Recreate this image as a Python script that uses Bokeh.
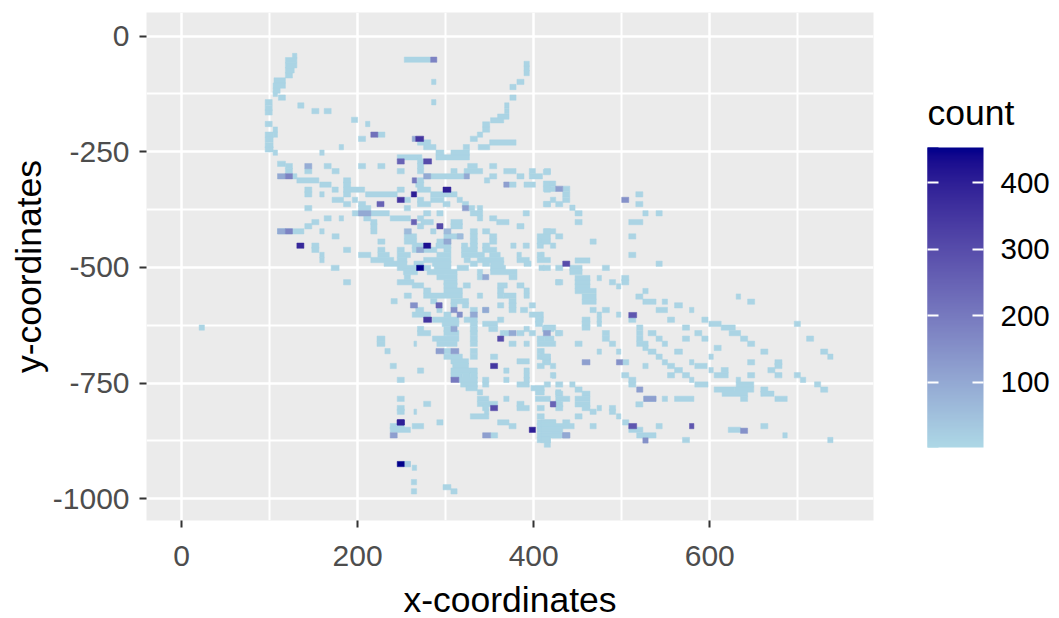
from bokeh.plotting import figure
from bokeh.models import ColumnDataSource, LinearColorMapper, ColorBar, FixedTicker, Range1d, Label
from bokeh.embed import file_html
from bokeh.resources import INLINE

x_ticks = [0, 200, 400, 600]
x_minor = [100, 300, 500, 700]
y_ticks = [0, -250, -500, -750, -1000]
y_minor = [-125, -375, -625, -875]
legend_ticks = [100, 200, 300, 400]
count_low, count_high = 1.5, 453
base_count = 12

# rows of pale cells: (y, [x0, x1, x0, x1, ...])
upper_rows = [
 (-43,[126,131]),(-52,[118,131]),(-63,[118,131]),(-74,[118,128]),(-85,[118,126]),(-96,[105,118]),(-107,[104,118]),
 (-118,[104,112]),(-125,[104,109]),(-133,[110,118,373,380]),(-143,[95,103,284,289]),(-150,[132,139,367,372]),
 (-155,[95,103]),(-162,[148,156,162,170,367,372]),(-165,[95,103]),(-174,[359,372]),(-181,[193,200]),
 (-182,[351,366]),(-190,[95,103,209,214]),(-191,[342,350]),(-202,[104,109,342,350]),
 (-213,[95,104,104,109,223,231,336,342]),(-222,[201,209,328,336]),(-224,[95,104]),(-230,[268,283,350,380]),
 (-236,[95,104]),(-240,[179,184,275,289,320,327,337,350]),(-245,[95,104]),(-252,[104,109,157,162,289,298,306,327]),
 (-262,[245,273,289,327]),(-271,[268,275]),(-60,[389,395]),(-70,[389,395]),(-80,[389,395]),(-99,[284,289,381,389]),
 (-110,[373,380]),(-51,[253,283]),
 (-276,[109,118]),(-281,[118,126,162,170,201,209,223,231,268,275,325,336,350,358]),
 (-292,[118,126,140,148,171,179,245,253,268,275,306,313,321,342,366,380,395,402,412,419]),
 (-294,[411,419]),(-303,[126,131,276,321,350,358,381,389,395,410]),(-312,[131,156,184,192,268,275,344,350]),
 (-319,[411,425]),(-321,[157,170,184,192,266,275,372,380,389,402,412,419]),
 (-330,[411,425,433,441]),(-332,[140,148,171,178,184,208,245,253,268,283,412,419]),
 (-342,[140,148,157,162,184,192,209,245,283,306,306,313,433,441,516,524]),
 (-354,[253,260,171,184,194,200,268,275,283,298,313,319,419,425,433,441]),
 (-363,[184,192,201,209,268,283,297,305,319,326,412,419,411,419,425,433,516,524]),
 (-371,[441,447]),(-372,[140,148,201,215,253,260,326,333,336,342]),
 (-383,[194,236,275,283,290,297,328,342,388,395,447,455,524,530,539,546]),
 (-394,[162,170,179,184,207,215,237,260,268,275,336,342,350,358]),
 (-402,[148,156,215,222,272,286,306,319,358,372,447,455,508,524]),
 (-411,[140,148,215,222,268,275,306,319,381,389]),
 (-422,[109,139,157,162,215,222,283,289,328,336,342,350,412,419,411,425]),
 (-433,[171,179,253,267,298,319,328,336,350,358,404,419,425,433,508,516]),
 (-444,[223,231,253,267,290,306,328,336,350,358,404,411,408,419,464,471]),
 (-453,[148,156,262,275,289,306,318,325,328,336,342,350,374,380,388,395,404,411,419,425]),
 (-462,[148,156,184,192,223,231,245,253,262,290,298,306,318,336,342,358]),
 (-473,[157,162,201,215,223,236,245,260,290,306,318,344,350,362,381,386,404,411,408,412,508,516]),
 (-484,[157,162,215,241,245,256,275,306,321,328,336,366,381,395,404,419]),
 (-485,[447,464]),(-492,[230,256,264,275,285,306,328,336,342,350,351,366,389,397,539,546]),
]
middle_rows = [
 (-501,[170,179,245,267,275,283,287,306,313,326,351,368,406,412,411,419,425,433,441,455,478,486]),
 (-510,[252,268,279,313,336,342,351,381,441,455]),
 (-521,[253,260,290,313,336,342,372,381]),(-523,[447,464,472,477,500,508]),
 (-532,[184,192,245,264,298,313,425,431,425,433,447,464,486,493,500,508]),
 (-539,[262,275,298,313,320,328,359,370,381,389]),(-541,[447,464,494,499]),
 (-550,[275,283,298,319,359,366,389,395]),(-551,[447,471,524,530]),
 (-561,[253,261,275,319,336,342,359,366,366,380,389,395]),(-563,[455,471,516,524,630,635]),
 (-573,[238,245,283,290,306,326,372,380]),(-574,[455,471,524,539,546,552,643,651]),
 (-582,[290,296,306,313,319,326,359,366,372,380,395,402,560,569]),
 (-592,[266,275,290,296,328,336,342,349,372,380,385,393,464,471,478,486,539,552,577,582]),
 (-602,[262,283,298,306,395,410,408,411,472,477,494,499]),
 (-613,[285,315,321,336,359,366,402,410,408,411,455,464,472,477,508,516,552,560,591,598]),
 (-622,[296,315,328,336,342,359,402,410,455,464,472,477,599,613,696,703]),
 (-630,[20,26,411,425,455,464,517,524,569,577,613,629]),
 (-633,[268,275,298,306,328,336,349,359,389,395,410,423]),
 (-642,[268,283,298,315,328,336,362,366,366,372,381,389,395,402,425,431,425,433,478,486,517,524,530,539,583,591,622,635]),
 (-654,[222,231,285,315,328,336,404,412,412,423,478,486,517,524,539,546,569,577,591,598,635,643,710,718]),
 (-665,[222,231,264,267,290,313,328,336,372,380,389,395,404,425,447,455,486,493,517,530,546,552,643,651]),
 (-674,[524,530,605,613]),(-681,[231,237,298,306,328,336,404,412]),
 (-682,[408,411,472,477,494,499,530,539,560,569,658,666,726,734]),
 (-693,[298,319,328,336,351,359,404,419,408,419,539,546,599,604,734,740]),
 (-703,[306,326,381,395,410,419]),(-705,[411,419,501,508,546,552,577,582,643,651,674,682]),
 (-713,[237,244,308,326,404,412,419,425,524,530,552,560,583,597,674,682]),
 (-722,[560,569,599,604,613,621,666,674]),
 (-723,[268,275,306,336,366,372,389,395]),
 (-733,[419,425,500,508,552,560,569,577,605,621,643,651,674,682,696,703]),
 (-734,[306,319,319,328,328,336,389,395,421,425]),
 (-743,[245,253,315,336,342,349,366,372,389,395,508,516,577,582,630,635,703,709]),
 (-753,[317,336,342,349,381,395,412,419,425,433,441,447,508,516,583,598,630,650,719,726]),
]
lower_rows = [
 (-761,[323,336,397,412]),(-764,[408,411,447,455,605,628,628,650,658,666,726,734]),
 (-770,[336,342,402,412,425,431]),(-773,[425,433,455,464,614,643,658,673]),
 (-784,[245,253,336,349,366,372,402,419,425,441,447,464,525,539,546,552,560,582,635,643,674,688]),
 (-795,[275,283,336,359,381,389,425,431]),(-796,[425,433,447,464,516,524]),
 (-804,[245,253,342,349,381,395,404,412,425,433,455,464,472,477,486,493]),
 (-812,[245,253,264,267,344,349,464,471,486,493]),
 (-822,[328,349,404,412,447,455,494,499]),
 (-835,[290,297,359,372,404,425,408,425,433,441,501,508]),
 (-843,[237,253,262,275,372,380,404,412,418,425,408,446,464,471,539,546,658,666]),
 (-851,[237,260,404,431,408,433,508,524,621,635]),
 (-863,[351,359,404,410,421,431,408,433,517,539,683,688]),
 (-873,[404,419,408,419,569,577,734,740]),(-883,[412,419]),
 (-925,[253,260]),(-933,[262,267]),(-964,[261,267]),(-975,[297,306]),(-984,[261,267,306,313]),
]

# individually darker cells
hot_x0 = [215,262,266,283,245,275,109,118,275,321,140,262,366,297,261,245,222,319,201,261,290,109,118,253,298,131,275,313,298,267,267,289,306,260,313,328,342,342,275,359,289,306,372,351,306,306,245,351,419,245,395,237,342,254,245,500,425,433,411,455,494,508,577,433,419,517,525,508,635,524,433]
hot_x1 = [223,266,275,290,253,284,118,126,283,327,148,267,372,306,267,253,230,326,215,267,297,118,126,261,306,139,283,320,306,275,275,296,313,268,319,336,349,349,284,366,298,313,380,359,315,315,253,359,425,253,402,245,351,260,253,508,433,441,419,464,501,517,582,441,425,524,539,517,643,530,441]
hot_y  = [-213,-222,-222,-51,-271,-271,-303,-303,-303,-303,-281,-312,-321,-332,-342,-354,-363,-372,-383,-402,-411,-422,-422,-422,-422,-453,-453,-433,-444,-501,-462,-582,-592,-582,-602,-602,-521,-592,-613,-654,-681,-633,-642,-713,-743,-681,-835,-804,-795,-925,-851,-863,-863,-925,-835,-354,-330,-492,-642,-705,-705,-603,-843,-863,-796,-764,-784,-843,-853,-874,-863]
hot_n  = [220,100,350,180,250,300,100,180,100,100,90,200,120,400,400,350,250,120,100,250,300,100,180,60,60,380,430,60,100,460,100,250,150,150,150,100,100,100,350,300,120,100,100,350,200,120,400,300,120,460,400,120,120,30,400,150,120,300,120,120,150,280,280,100,250,120,120,280,150,150,100]

pale = (173, 216, 230)
deep = (0, 0, 139)


def rgb_to_lab(rgb):
    lin = [(c / 255 / 12.92) if c / 255 <= 0.04045 else ((c / 255 + 0.055) / 1.055) ** 2.4 for c in rgb]
    x = (0.4124 * lin[0] + 0.3576 * lin[1] + 0.1805 * lin[2]) / 0.95047
    y = 0.2126 * lin[0] + 0.7152 * lin[1] + 0.0722 * lin[2]
    z = (0.0193 * lin[0] + 0.1192 * lin[1] + 0.9505 * lin[2]) / 1.08883
    f = lambda t: t ** (1 / 3) if t > 0.008856 else 7.787 * t + 16 / 116
    return 116 * f(y) - 16, 500 * (f(x) - f(y)), 200 * (f(y) - f(z))


def lab_to_hex(lab):
    fy = (lab[0] + 16) / 116
    fx, fz = fy + lab[1] / 500, fy - lab[2] / 200
    g = lambda t: t ** 3 if t ** 3 > 0.008856 else (t - 16 / 116) / 7.787
    x, y, z = 0.95047 * g(fx), g(fy), 1.08883 * g(fz)
    lin = (3.2406 * x - 1.5372 * y - 0.4986 * z, -0.9689 * x + 1.8758 * y + 0.0415 * z, 0.0557 * x - 0.2040 * y + 1.0570 * z)
    out = [12.92 * c if c <= 0.0031308 else 1.055 * max(c, 0) ** (1 / 2.4) - 0.055 for c in lin]
    return "#%02x%02x%02x" % tuple(min(255, max(0, round(c * 255))) for c in out)


lab_a, lab_b = rgb_to_lab(pale), rgb_to_lab(deep)
palette = [lab_to_hex([a + (b - a) * i / 255 for a, b in zip(lab_a, lab_b)]) for i in range(256)]
mapper = LinearColorMapper(palette=palette, low=count_low, high=count_high)

xl, xr, yy, nn = [], [], [], []
for rows in (upper_rows, middle_rows, lower_rows):
    for y, spans in rows:
        for a, b in zip(spans[0::2], spans[1::2]):
            xl.append(a); xr.append(b); yy.append(y); nn.append(base_count)
order = sorted(range(len(hot_n)), key=lambda i: hot_n[i])
xl += [hot_x0[i] for i in order]
xr += [hot_x1[i] for i in order]
yy += [hot_y[i] for i in order]
nn += [hot_n[i] for i in order]
half_h = 5.7
source = ColumnDataSource(dict(left=xl, right=xr, top=[v + half_h for v in yy], bottom=[v - half_h for v in yy], count=nn))

FONT = "Liberation Sans"
p = figure(width=1059, height=618, frame_width=727, frame_height=508, output_backend="svg", toolbar_location=None,
           x_range=Range1d(-39.8, 786), y_range=Range1d(-1047, 51),
           min_border_left=146, min_border_right=186, min_border_top=12, min_border_bottom=98)
p.background_fill_color = "#EBEBEB"
p.border_fill_color = "white"
p.outline_line_color = None
p.quad(left="left", right="right", top="top", bottom="bottom", source=source,
       fill_color={"field": "count", "transform": mapper}, line_color={"field": "count", "transform": mapper}, line_width=0.5)

p.xaxis.ticker = FixedTicker(ticks=x_ticks, minor_ticks=x_minor)
p.yaxis.ticker = FixedTicker(ticks=y_ticks, minor_ticks=y_minor)
p.xaxis.major_label_overrides = {t: str(t) for t in x_ticks}
p.yaxis.major_label_overrides = {t: str(t) for t in y_ticks}
p.xgrid.ticker = FixedTicker(ticks=x_ticks, minor_ticks=x_minor)
p.ygrid.ticker = FixedTicker(ticks=y_ticks, minor_ticks=y_minor)
for g in (p.xgrid[0], p.ygrid[0]):
    g.grid_line_color = "white"; g.grid_line_width = 2.5
    g.minor_grid_line_color = "white"; g.minor_grid_line_width = 2
for ax, label in ((p.xaxis[0], "x-coordinates"), (p.yaxis[0], "y-coordinates")):
    ax.axis_label = label
    ax.axis_label_text_font = FONT
    ax.axis_label_text_font_size = "35.5px"
    ax.axis_label_text_font_style = "normal"
    ax.axis_label_text_color = "black"
    ax.major_label_text_font = FONT
    ax.major_label_text_font_size = "30px"
    ax.major_label_text_color = "#4D4D4D"
    ax.axis_line_color = None
    ax.major_tick_line_color = "#333333"
    ax.major_tick_line_width = 2
    ax.major_tick_out = 7
    ax.major_tick_in = 0
    ax.minor_tick_line_color = None
p.xaxis[0].axis_label_standoff = 11
p.xaxis[0].major_label_standoff = 18
p.yaxis[0].axis_label_standoff = 1
p.yaxis[0].major_label_standoff = 10

legend_ticker = FixedTicker(ticks=legend_ticks)
bar = ColorBar(color_mapper=mapper, ticker=legend_ticker, width=56, height=300, padding=0, orientation="vertical",
               location=(781, 73),
               major_label_text_font=FONT, major_label_text_font_size="29.5px", major_label_text_color="black",
               major_tick_line_color="white", major_tick_line_width=2, major_tick_in=11, major_tick_out=0,
               minor_tick_line_color=None, bar_line_color=None, major_label_overrides={t: str(t) for t in legend_ticks},
               label_standoff=17, background_fill_color=None, border_line_color=None)
p.add_layout(bar, "center")
left_ticks = ColorBar(color_mapper=mapper, ticker=legend_ticker, width=11, height=300, padding=0, orientation="vertical",
                      location=(781, 73), major_label_text_color=None,
                      major_tick_line_color="white", major_tick_line_width=2, major_tick_in=11, major_tick_out=0,
                      minor_tick_line_color=None, bar_line_color=None, label_standoff=0,
                      background_fill_color=None, border_line_color=None)
p.add_layout(left_ticks, "center")
p.add_layout(Label(x=54, y=408, x_units="screen", y_units="screen", text="count", text_font=FONT, level="overlay",
                   text_font_size="35.5px", text_color="black", text_baseline="middle", text_align="left"), "right")

open("out.html", "w").write(file_html(p, INLINE))
